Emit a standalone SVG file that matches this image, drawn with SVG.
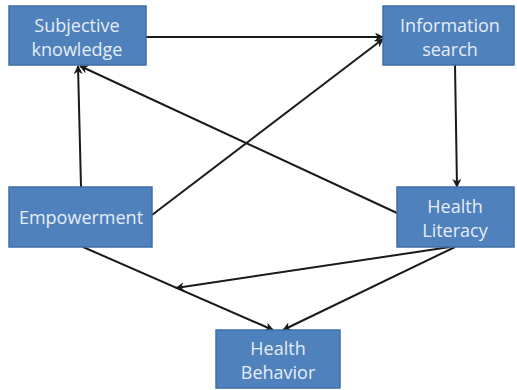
<svg xmlns="http://www.w3.org/2000/svg" width="517" height="390" viewBox="0 0 517 390">
<style>
.box{fill:#4f81bd;stroke:#3f6fa6;stroke-width:1.5}
.t{font-family:"Open Sans","Liberation Sans",sans-serif;font-size:18px;fill:#e6edf5;text-anchor:middle}
.c{stroke:#1a1a1a;stroke-width:2;fill:none;marker-end:url(#ah)}
</style>
<defs>
<marker id="ah" viewBox="0 0 10 10" refX="9" refY="5" markerWidth="9" markerHeight="9" markerUnits="userSpaceOnUse" orient="auto">
<path d="M0,0 L10,5 L0,10 L3,5 Z" fill="#1a1a1a"/>
</marker>
</defs>
<rect width="517" height="390" fill="#ffffff"/>
<g id="connectors">
<line class="c" x1="146" y1="37" x2="383" y2="37"/>
<line class="c" x1="152" y1="215" x2="383" y2="39"/>
<line class="c" x1="81" y1="187" x2="78" y2="66"/>
<line class="c" x1="397" y1="213" x2="80" y2="66"/>
<line class="c" x1="455" y1="65" x2="457" y2="187"/>
<line class="c" x1="83" y1="247" x2="273" y2="330"/>
<line class="c" x1="450" y1="247" x2="176" y2="288"/>
<line class="c" x1="455" y1="247" x2="283" y2="330"/>
</g>
<g id="subjective-knowledge">
<rect class="box" x="9" y="6" width="137" height="59"/>
<text class="t" x="77" y="32">Subjective</text>
<text class="t" x="77" y="56">knowledge</text>
</g>
<g id="information-search">
<rect class="box" x="383" y="6" width="131" height="59"/>
<text class="t" x="450" y="32">Information</text>
<text class="t" x="450" y="56">search</text>
</g>
<g id="empowerment">
<rect class="box" x="9" y="187" width="143" height="60"/>
<text class="t" x="81" y="224">Empowerment</text>
</g>
<g id="health-literacy">
<rect class="box" x="397" y="187" width="117" height="60"/>
<text class="t" x="455" y="213">Health</text>
<text class="t" x="455" y="237">Literacy</text>
</g>
<g id="health-behavior">
<rect class="box" x="216" y="330" width="124" height="58"/>
<text class="t" x="278" y="355">Health</text>
<text class="t" x="278" y="379">Behavior</text>
</g>
</svg>
